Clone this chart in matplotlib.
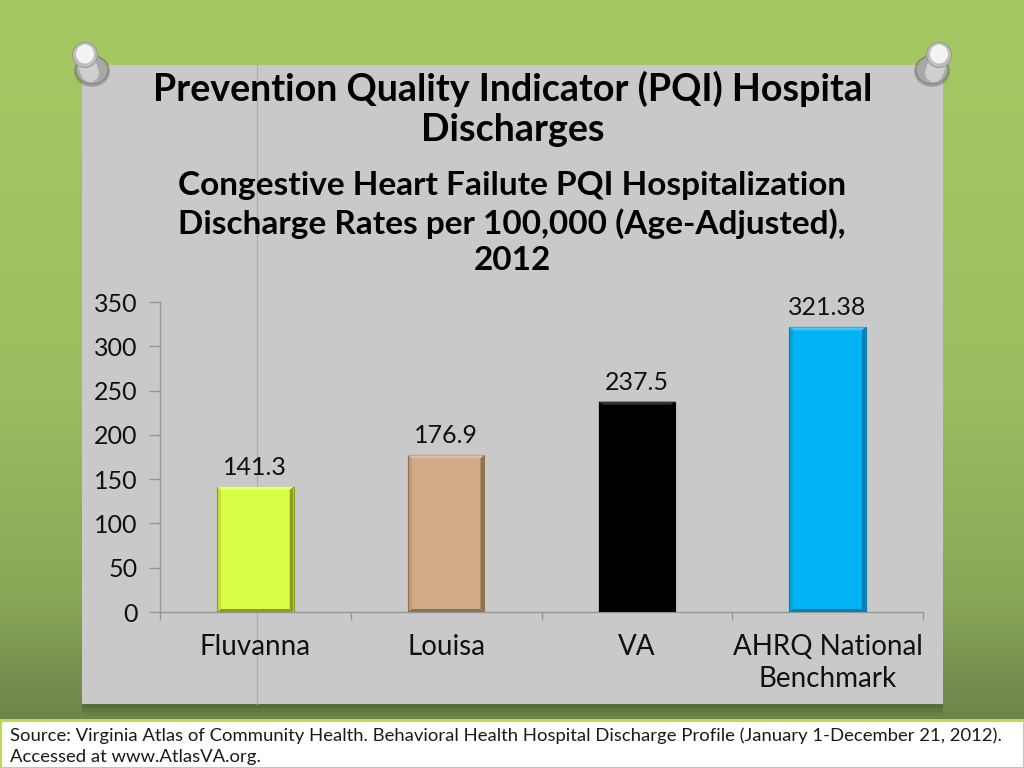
import numpy as np
import matplotlib
matplotlib.use('Agg')
import matplotlib.pyplot as plt
from matplotlib.patches import Rectangle, Polygon, Ellipse

categories = ['Fluvanna', 'Louisa', 'VA', 'AHRQ National\nBenchmark']
values = [141.3, 176.9, 237.5, 321.38]
value_labels = ['141.3', '176.9', '237.5', '321.38']
colors = ['#D8FF45', '#D2AB87', '#000000', '#00B4F5']
light = ['#E8FF70', '#E0BFA0', '#333333', '#40C8FA']
dark = ['#8A9F20', '#8F7253', '#000000', '#0080B0']
yticks = [0, 50, 100, 150, 200, 250, 300, 350]
title = 'Prevention Quality Indicator (PQI) Hospital\nDischarges'
subtitle = 'Congestive Heart Failute PQI Hospitalization\nDischarge Rates per 100,000 (Age-Adjusted),\n2012'
source = ('Source: Virginia Atlas of Community Health. Behavioral Health Hospital Discharge '
          'Profile (January 1-December 21, 2012).\nAccessed at www.AtlasVA.org.')

plt.rcParams['font.family'] = ['Lato', 'DejaVu Sans']
fig = plt.figure(figsize=(10.24, 7.68), dpi=100)

# background, in pixel coordinates
bg = fig.add_axes([0, 0, 1, 1])
bg.set_xlim(0, 1024)
bg.set_ylim(768, 0)
bg.axis('off')
stops_y = [0, 0.5, 0.78, 0.92, 1]
stops = np.array([[166, 200, 100], [156, 190, 96], [138, 166, 88], [112, 136, 76], [104, 126, 70]]) / 255
yy = np.linspace(0, 1, 256)
grad = np.stack([np.interp(yy, stops_y, stops[:, i]) for i in range(3)], axis=1)[:, None, :]
bg.imshow(grad, extent=[0, 1024, 768, 0], aspect='auto', zorder=0)

# shadow under the panel
for k, a in zip([12, 8, 4], [0.05, 0.07, 0.09]):
    bg.add_patch(Rectangle((82, 65), 861, 639 + k, fc='black', alpha=a, lw=0, zorder=1))
bg.add_patch(Rectangle((82, 65), 861, 639, fc='#C9C9C9', lw=0, zorder=2))
bg.plot([256.5, 256.5], [65, 704], color='#ABABAB', lw=0.9, zorder=3)


def pin(cx, cy, lean):
    # base, stem and head of a push pin
    bg.add_patch(Ellipse((cx + lean * 7, cy + 7), 36, 32, fc='#555555', alpha=0.35, lw=0, zorder=4))
    bg.add_patch(Ellipse((cx + lean * 7, cy + 6), 32, 28, fc='#A8A8A8', ec='#7A7A7A', lw=0.6, zorder=5))
    bg.plot([cx + lean * 5, cx], [cy + 9, cy - 5], color='#CFCFCF', lw=13, solid_capstyle='round', zorder=6)
    bg.add_patch(Ellipse((cx, cy - 9), 25, 25, fc='#BDBDBD', ec='#8A8A8A', lw=0.5, zorder=7))
    bg.add_patch(Ellipse((cx, cy - 10), 18, 19, fc='#F3F3F3', lw=0, zorder=8))


pin(85, 64, 1)
pin(939, 64, -1)

# source box
bg.add_patch(Rectangle((0, 720), 1024, 48, fc='white', ec='#B9DC50', lw=2.2, zorder=9))
bg.text(10, 746, source, fontsize=13.3, color='#1A1A1A', va='center', ha='left',
        linespacing=1.38, zorder=10)

# titles
bg.text(513, 109, title, fontsize=27.1, fontweight='bold', color='black', ha='center', va='center',
        linespacing=1.24, zorder=10)
bg.text(512, 223, subtitle, fontsize=24, fontweight='bold', color='black', ha='center', va='center',
        linespacing=1.295, zorder=10)

# chart
ax = fig.add_axes([160 / 1024, 1 - 612 / 768, 763 / 1024, 310 / 768])
ax.patch.set_alpha(0)
x = np.arange(len(values))
bar_w = 0.4
ax.bar(x, values, width=bar_w, color=colors, edgecolor=dark, linewidth=0.8, zorder=3)

# bevel around each bar, sized off the bar itself
bev_x = 0.02
bev_y = 3.4
for i, v in enumerate(values):
    l, r = i - bar_w / 2, i + bar_w / 2
    ax.add_patch(Polygon([(l, v), (r, v), (r - bev_x, v - bev_y), (l + bev_x, v - bev_y)],
                         fc=light[i], lw=0, zorder=4))
    ax.add_patch(Polygon([(l, 0), (r, 0), (r - bev_x, bev_y), (l + bev_x, bev_y)],
                         fc=dark[i], lw=0, zorder=4))
    ax.add_patch(Polygon([(r, 0), (r, v), (r - bev_x, v - bev_y), (r - bev_x, bev_y)],
                         fc=dark[i], lw=0, zorder=4))
    ax.add_patch(Polygon([(l, 0), (l, v), (l + bev_x, v - bev_y), (l + bev_x, bev_y)],
                         fc=dark[i], alpha=0.3, lw=0, zorder=4))
    ax.text(i, v + 9, value_labels[i], fontsize=18, color='#111111', ha='center', va='bottom')

ax.set_xlim(-0.5, len(values) - 0.5)
ax.set_ylim(0, 350)
ax.set_yticks(yticks)
ax.set_xticks(x)
ax.set_xticklabels(categories, fontsize=20, color='#111111', linespacing=1.28)
ax.set_xticks(np.arange(len(values) + 1) - 0.5, minor=True)
ax.tick_params(axis='x', which='major', length=0, pad=16)
ax.tick_params(axis='x', which='minor', length=6, width=1, color='#969696')
ax.tick_params(axis='y', length=8, width=1, color='#969696', labelsize=18, labelcolor='#111111', pad=8)
for s in ['top', 'right']:
    ax.spines[s].set_visible(False)
for s in ['left', 'bottom']:
    ax.spines[s].set_color('#969696')
    ax.spines[s].set_linewidth(1)

fig.savefig('out.png', dpi=100)
